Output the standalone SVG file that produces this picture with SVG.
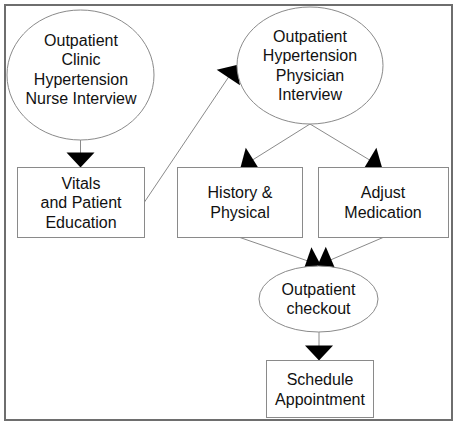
<svg xmlns="http://www.w3.org/2000/svg" width="458" height="423" viewBox="0 0 458 423">
<defs>
<marker id="ah" markerUnits="userSpaceOnUse" markerWidth="15" markerHeight="28" refX="15" refY="14" orient="auto" overflow="visible">
<path d="M0,0 L15,14 L0,28 z" fill="#000"/>
</marker>
<style>
.n{fill:#fff;stroke:#8a8a8a;stroke-width:1}
.c{fill:none;stroke:#8a8a8a;stroke-width:1;marker-end:url(#ah)}
text{font-family:"Liberation Sans",Arial,sans-serif;font-size:16px;fill:#111;text-anchor:middle}
</style>
</defs>
<rect x="0" y="0" width="458" height="423" fill="#fff"/>
<rect x="5" y="5" width="447" height="415" fill="none" stroke="#6e6e6e" stroke-width="2"/>
<g id="connectors">
<line class="c" x1="80.5" y1="140" x2="80.5" y2="167.5"/>
<line class="c" x1="144.5" y1="202" x2="236.7" y2="65"/>
<line class="c" x1="310" y1="124" x2="240.5" y2="167.5"/>
<line class="c" x1="310" y1="124" x2="382" y2="167.5"/>
<line class="c" x1="240" y1="237.5" x2="321" y2="265.5"/>
<line class="c" x1="383" y1="237.5" x2="317.5" y2="265.5"/>
<line class="c" x1="319" y1="332" x2="319" y2="360.5"/>
</g>
<g id="nurse">
<ellipse class="n" cx="80.5" cy="75" rx="73.5" ry="65"/>
<text x="81" y="45.5">Outpatient</text>
<text x="81" y="65">Clinic</text>
<text x="81" y="84.5">Hypertension</text>
<text x="81" y="104">Nurse Interview</text>
</g>
<g id="vitals">
<rect class="n" x="17.5" y="167.5" width="127" height="70"/>
<text x="81" y="189">Vitals</text>
<text x="81" y="208.3">and Patient</text>
<text x="81" y="227.6">Education</text>
</g>
<g id="physician">
<ellipse class="n" cx="310" cy="65.5" rx="73" ry="58.5"/>
<text x="310" y="41.5">Outpatient</text>
<text x="310" y="61">Hypertension</text>
<text x="310" y="80.5">Physician</text>
<text x="310" y="100">Interview</text>
</g>
<g id="history">
<rect class="n" x="177.5" y="167.5" width="125" height="70"/>
<text x="240" y="198">History &amp;</text>
<text x="240" y="217.5">Physical</text>
</g>
<g id="adjust">
<rect class="n" x="318.5" y="167.5" width="130" height="70"/>
<text x="383" y="198">Adjust</text>
<text x="383" y="217.5">Medication</text>
</g>
<g id="checkout">
<ellipse class="n" cx="318.5" cy="299" rx="59.5" ry="33"/>
<text x="318.5" y="294.5">Outpatient</text>
<text x="318.5" y="314">checkout</text>
</g>
<g id="schedule">
<rect class="n" x="266.5" y="360.5" width="107" height="57"/>
<text x="320" y="385">Schedule</text>
<text x="320" y="404.5">Appointment</text>
</g>
</svg>
